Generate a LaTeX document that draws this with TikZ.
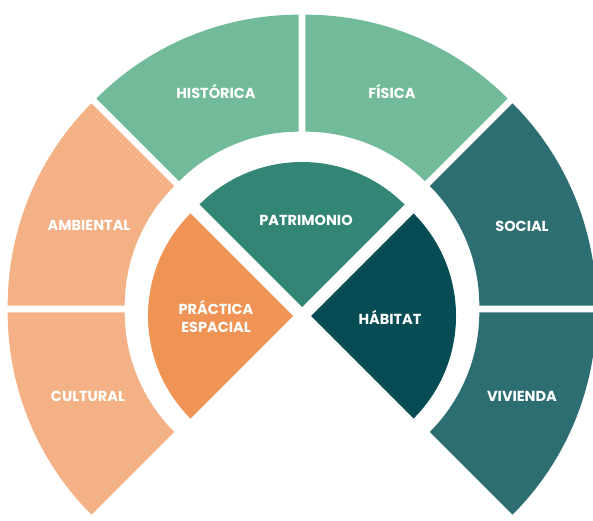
\documentclass[tikz,border=0pt]{standalone}
\usepackage{fontspec}
\setmainfont{Poppins}
\definecolor{verdeclaro}{HTML}{71BB9A}
\definecolor{verdeoscuro}{HTML}{338676}
\definecolor{tealoscuro}{HTML}{064C54}
\definecolor{tealmedio}{HTML}{2D6E73}
\definecolor{naranja}{HTML}{EF9455}
\definecolor{naranjaclaro}{HTML}{F3B185}
\tikzset{etiqueta/.style={text=white,font=\fontsize{14.5}{18}\selectfont\bfseries,align=center,inner sep=0pt}}

\begin{document}
\begin{tikzpicture}[x=1pt,y=1pt]
\useasboundingbox (0,0) rectangle (593,520);
\clip (0,0) rectangle (593,520);
\fill[white] (0,0) rectangle (593,520);
\def\Ri{169}
\def\Re{286}
\def\Rc{145}
\def\desp{9}
% anillo exterior
\foreach \a/\col in {-45/tealmedio,0/tealmedio,45/verdeclaro,90/verdeclaro,135/naranjaclaro,180/naranjaclaro}
  {\fill[\col,shift={(302,211)},shift={({\a+22.5}:\desp)}] (\a:\Ri) arc[start angle=\a,delta angle=45,radius=\Ri] -- ({\a+45}:\Re) arc[start angle=\a+45,delta angle=-45,radius=\Re] -- cycle;}
% sectores centrales
\foreach \b/\col in {0/tealoscuro,90/verdeoscuro,180/naranja}
  {\fill[\col,shift={(302,204)},shift={(\b:\desp)}] (0,0) -- ({\b-45}:\Rc) arc[start angle=\b-45,delta angle=90,radius=\Rc] -- cycle;}
\node[etiqueta] (historica) at (216,429) {HISTÓRICA};
\node[etiqueta] (fisica) at (392,429) {FÍSICA};
\node[etiqueta] (ambiental) at (89,295) {AMBIENTAL};
\node[etiqueta] (cultural) at (88,124) {CULTURAL};
\node[etiqueta] (social) at (522,294) {SOCIAL};
\node[etiqueta] (vivienda) at (522,124) {VIVIENDA};
\node[etiqueta] (patrimonio) at (306,300) {PATRIMONIO};
\node[etiqueta] (practica) at (216,204) {PRÁCTICA\\ESPACIAL};
\node[etiqueta] (habitat) at (390,203) {HÁBITAT};
\end{tikzpicture}
\end{document}
